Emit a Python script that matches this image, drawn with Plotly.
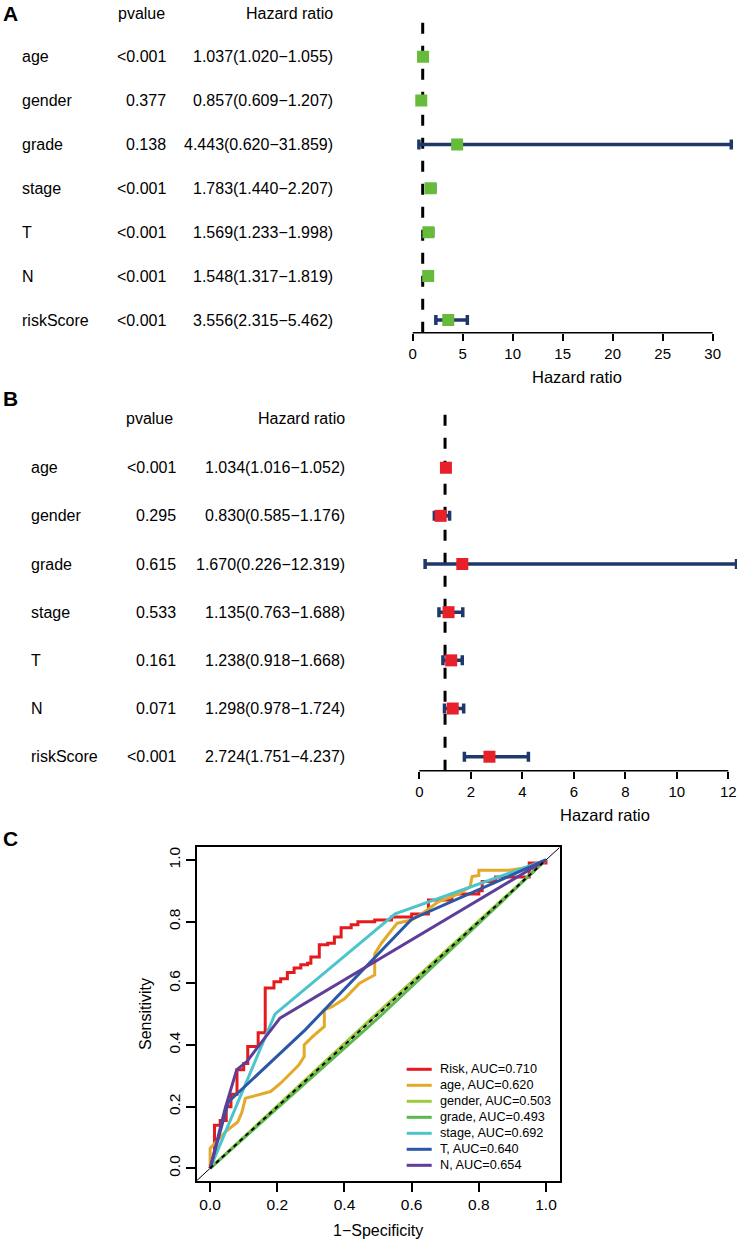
import plotly.graph_objects as go

W, H = 737, 1240
FONT = "Liberation Sans, Arial, sans-serif"

variables = ["age", "gender", "grade", "stage", "T", "N", "riskScore"]

# univariate Cox (panel A)
uni_pvalue = ["<0.001", "0.377", "0.138", "<0.001", "<0.001", "<0.001", "<0.001"]
uni_hr = [1.037, 0.857, 4.443, 1.783, 1.569, 1.548, 3.556]
uni_low = [1.020, 0.609, 0.620, 1.440, 1.233, 1.317, 2.315]
uni_high = [1.055, 1.207, 31.859, 2.207, 1.998, 1.819, 5.462]

# multivariate Cox (panel B)
multi_pvalue = ["<0.001", "0.295", "0.615", "0.533", "0.161", "0.071", "<0.001"]
multi_hr = [1.034, 0.830, 1.670, 1.135, 1.238, 1.298, 2.724]
multi_low = [1.016, 0.585, 0.226, 0.763, 0.918, 0.978, 1.751]
multi_high = [1.052, 1.176, 12.319, 1.688, 1.668, 1.724, 4.237]

# ROC curves (panel C)
roc_names = ["Risk", "age", "gender", "grade", "stage", "T", "N"]
roc_auc = ["0.710", "0.620", "0.503", "0.493", "0.692", "0.640", "0.654"]
roc_colors = ["#E41A1C", "#E2AA28", "#9CCB3C", "#5DB84E", "#4CC4CC", "#2A57A7", "#5E3E98"]

risk_fpr = [0, 0.013, 0.013, 0.03, 0.03, 0.048, 0.048, 0.062, 0.062, 0.08, 0.08, 0.1, 0.1,
            0.112, 0.112, 0.143, 0.143, 0.164, 0.164, 0.19, 0.19, 0.21, 0.21, 0.23, 0.23,
            0.25, 0.25, 0.27, 0.27, 0.29, 0.29, 0.30, 0.30, 0.325, 0.325, 0.35, 0.35, 0.37,
            0.37, 0.39, 0.39, 0.42, 0.42, 0.44, 0.44, 0.49, 0.49, 0.54, 0.54, 0.60, 0.60,
            0.65, 0.65, 0.72, 0.72, 0.80, 0.80, 0.81, 0.81, 0.85, 0.85, 0.95, 0.95, 1.0, 1.0]
risk_tpr = [0, 0.05, 0.14, 0.14, 0.155, 0.155, 0.20, 0.20, 0.24, 0.24, 0.32, 0.32, 0.34,
            0.34, 0.395, 0.395, 0.44, 0.44, 0.585, 0.585, 0.605, 0.605, 0.615, 0.615, 0.635,
            0.635, 0.65, 0.65, 0.66, 0.66, 0.665, 0.665, 0.685, 0.685, 0.725, 0.725, 0.73,
            0.73, 0.75, 0.75, 0.78, 0.78, 0.79, 0.79, 0.80, 0.80, 0.805, 0.805, 0.815, 0.815,
            0.825, 0.825, 0.87, 0.87, 0.89, 0.89, 0.90, 0.90, 0.93, 0.93, 0.945, 0.945, 0.99,
            0.99, 1.0]

age_fpr = [0, 0, 0.018, 0.047, 0.082, 0.094, 0.105, 0.147, 0.18, 0.21, 0.24, 0.264, 0.28,
           0.28, 0.305, 0.34, 0.34, 0.363, 0.40, 0.445, 0.49, 0.49, 0.51, 0.557, 0.60, 0.633,
           0.68, 0.74, 0.774, 0.78, 0.80, 0.80, 0.89, 0.96, 1.0]
age_tpr = [0, 0.065, 0.086, 0.12, 0.15, 0.18, 0.227, 0.238, 0.249, 0.276, 0.308, 0.335, 0.362,
           0.40, 0.427, 0.46, 0.514, 0.524, 0.55, 0.60, 0.627, 0.695, 0.73, 0.795, 0.805, 0.827,
           0.865, 0.89, 0.913, 0.946, 0.95, 0.967, 0.967, 0.978, 1.0]

gender_fpr = [0, 0.5, 1.0]
gender_tpr = [0, 0.506, 1.0]

grade_fpr = [0, 0.5, 1.0]
grade_tpr = [0, 0.487, 1.0]

stage_fpr = [0, 0.193, 0.551, 1.0]
stage_tpr = [0, 0.50, 0.825, 1.0]

t_fpr = [0, 0.054, 0.283, 0.60, 1.0]
t_tpr = [0, 0.215, 0.449, 0.808, 1.0]

n_fpr = [0, 0.045, 0.079, 0.109, 0.208, 1.0]
n_tpr = [0, 0.195, 0.319, 0.346, 0.487, 1.0]

roc_fpr = [risk_fpr, age_fpr, gender_fpr, grade_fpr, stage_fpr, t_fpr, n_fpr]
roc_tpr = [risk_tpr, age_tpr, gender_tpr, grade_tpr, stage_tpr, t_tpr, n_tpr]


def px(x):
    return x / W


def py(y):
    return 1 - y / H


fig = go.Figure()
annotations = []
shapes = []
rows = list(range(len(variables), 0, -1))


def label(text, x, y, xref="paper", yref="paper", xanchor="center", size=16, **kw):
    annotations.append(dict(text=text, x=x, y=y, xref=xref, yref=yref, xanchor=xanchor,
                            yanchor="middle", showarrow=False, font=dict(size=size), **kw))


def forest(n, hr, low, high, pvalue, color, p):
    xa, ya = "x" + n, "y" + n
    fig.add_trace(go.Scatter(
        x=hr, y=rows, mode="markers", xaxis=xa, yaxis=ya, showlegend=False,
        marker=dict(symbol="square", size=12, color=color),
        error_x=dict(type="data", symmetric=False,
                     array=[h - m for h, m in zip(high, hr)],
                     arrayminus=[m - l for m, l in zip(hr, low)],
                     color="#1E3869", thickness=3.5, width=5),
    ))
    step = p["step"]
    y0 = 1 - (p["axis"] - p["last_row"]) / step
    y1 = len(variables) + (p["first_row"] - p["top"]) / step
    r0 = (p["left"] - p["zero"]) / p["ppu"]
    r1 = (W - p["zero"]) / p["ppu"]
    fig.update_layout(**{
        "xaxis" + n: dict(domain=[px(p["left"]), 1], range=[r0, r1], anchor=ya,
                          showgrid=False, zeroline=False, showline=False,
                          tickmode="array", tickvals=p["ticks"], ticks="outside",
                          ticklen=7, tickwidth=1.5, tickcolor="black",
                          ticklabeloverflow="allow",
                          tickfont=dict(size=15, color="black")),
        "yaxis" + n: dict(domain=[py(p["axis"]), py(p["top"])], range=[y0, y1], anchor=xa,
                          visible=False, showgrid=False, zeroline=False),
    })
    # axis line from first to last tick, R style
    shapes.append(dict(type="line", xref=xa, yref=ya + " domain", x0=p["ticks"][0],
                       x1=p["ticks"][-1], y0=0, y1=0, line=dict(color="black", width=1.5)))
    # reference line at HR = 1
    shapes.append(dict(type="line", xref=xa, yref=ya + " domain", x0=1, x1=1, y0=0, y1=1,
                       layer="below", line=dict(color="black", width=3, dash="11px,12px")))
    label("Hazard ratio", p["title_x"], py(p["axis"] + 44), xref=xa, size=16.5)
    # table on the left
    for r, v, pv, m, l, h in zip(rows, variables, pvalue, hr, low, high):
        label(v, px(p["col0"]), r, yref=ya, xanchor="left")
        label(pv, px(p["col1"]), r, yref=ya, xanchor="right")
        label(f"{m:.3f}({l:.3f}\u2212{h:.3f})", px(p["col2"]), r, yref=ya, xanchor="right")
    label("pvalue", px(p["hdr1"]), py(p["hdr_y"]))
    label("Hazard ratio", px(p["col2"]), py(p["hdr_y"]), xanchor="right")
    label("<b>" + p["letter"] + "</b>", px(10), py(p["letter_y"]), size=21)


forest("", uni_hr, uni_low, uni_high, uni_pvalue, "#66BB3A", dict(
    step=43.9, axis=332.7, last_row=320, first_row=56.7, top=15, left=405, zero=412.7,
    ppu=10.0, ticks=[0, 5, 10, 15, 20, 25, 30], title_x=16.4, col0=20, col1=168, col2=335,
    hdr1=141, hdr_y=13, letter="A", letter_y=13))

forest("2", multi_hr, multi_low, multi_high, multi_pvalue, "#E8202A", dict(
    step=48.2, axis=770.7, last_row=756.7, first_row=467.7, top=407, left=405, zero=419.3,
    ppu=25.75, ticks=[0, 2, 4, 6, 8, 10, 12], title_x=7.23, col0=29, col1=178, col2=347,
    hdr1=149.5, hdr_y=418, letter="B", letter_y=398))

# ROC panel
for name, fpr, tpr, col in zip(roc_names, roc_fpr, roc_tpr, roc_colors):
    fig.add_trace(go.Scatter(x=fpr, y=tpr, mode="lines", xaxis="x3", yaxis="y3",
                             name=name, showlegend=False, line=dict(color=col, width=3)))

fig.update_layout(
    xaxis3=dict(domain=[px(196.7), px(560)], range=[-0.04, 1.0417], anchor="y3",
                showgrid=False, zeroline=False, showline=True, mirror=True, linewidth=1.5,
                linecolor="black", ticks="outside", ticklen=9, tickwidth=1.5,
                tickcolor="black", tickvals=[0, 0.2, 0.4, 0.6, 0.8, 1.0], tickformat=".1f",
                tickfont=dict(size=15.5, color="black")),
    yaxis3=dict(domain=[py(1181), py(846.7)], range=[-0.0412, 1.043], anchor="x3",
                showgrid=False, zeroline=False, showline=True, mirror=True, linewidth=1.5,
                linecolor="black", ticks="outside", ticklen=9, tickwidth=1.5,
                tickcolor="black", tickvals=[0, 0.2, 0.4, 0.6, 0.8, 1.0], tickformat=".1f",
                tickangle=-90, tickfont=dict(size=15.5, color="black")),
)
shapes.append(dict(type="line", xref="x3", yref="y3", x0=-0.04, y0=-0.04, x1=1.04, y1=1.04,
                   layer="below", line=dict(color="black", width=1)))
shapes.append(dict(type="line", xref="x3", yref="y3", x0=0, y0=0, x1=1, y1=1,
                   line=dict(color="black", width=2, dash="4px,4px")))
label("1\u2212Specificity", px(378), py(1230))
label("Sensitivity", px(145), py(1014), textangle=-90)
label("<b>C</b>", px(10), py(838), size=21)

# legend drawn by hand to get R-like spacing
for i, (name, auc, col) in enumerate(zip(roc_names, roc_auc, roc_colors)):
    yy = 1069.3 + 16 * i
    shapes.append(dict(type="line", xref="paper", yref="paper", x0=px(406.7), x1=px(431.7),
                       y0=py(yy), y1=py(yy), line=dict(color=col, width=3)))
    label(f"{name}, AUC={auc}", px(438), py(yy), xanchor="left", size=12.7)

fig.update_layout(
    width=W, height=H,
    margin=dict(l=0, r=0, t=0, b=0),
    paper_bgcolor="white", plot_bgcolor="white",
    font=dict(family=FONT, color="black"),
    annotations=annotations, shapes=shapes,
)

# the page's body margin would push the figure off by 8px
fig.write_html("out.html", config={"displayModeBar": False},
               post_script="document.body.style.margin='0';")
